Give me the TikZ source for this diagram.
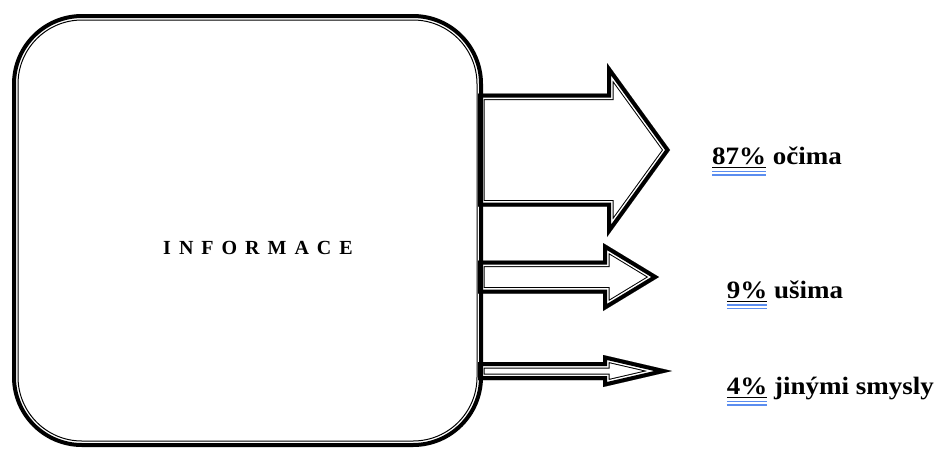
\documentclass[tikz,border=0pt]{standalone}
\usepackage{fontspec}
\setmainfont{Liberation Serif}
\newfontfamily\spacedfont[LetterSpace=40]{Liberation Serif}
\usepackage{xcolor}
\usepackage{graphicx}
\definecolor{markblue}{HTML}{5B8DEF}
% number with black underline and blue double mark below it
\newcommand\pctmark[1]{\setbox0\hbox{#1}%
  \rlap{\rule[-4pt]{\wd0}{1.4pt}}%
  \rlap{\color{markblue}\rule[-7.5pt]{\wd0}{1.2pt}}%
  \rlap{\color{markblue}\rule[-11.3pt]{\wd0}{1.2pt}}\box0\relax}

\begin{document}
\begin{tikzpicture}[x=1pt,y=-1pt,
  thickthin/.style={line join=miter,draw=white,line width=11,
    preaction={draw=black,line width=13},
    postaction={draw=black,line width=8}},
  infobox/.style={draw,line width=4,rounded corners=68pt,
    minimum width=467pt,minimum height=429pt,inner sep=0pt},
  sense/.style={anchor=base west,inner sep=0pt,font=\bfseries\fontsize{25}{29}\selectfont}]
\useasboundingbox (0,0) rectangle (939,448);
% arrows
\begin{scope}
\clip (478,93.5) -- (607,93.5) -- (607,63) -- (670,150) -- (607,237) -- (607,206.5) -- (478,206.5) -- cycle;
\draw[thickthin] (478,93.5) -- (607,93.5) -- (607,63) -- (670,150) -- (607,237) -- (607,206.5) -- (478,206.5) -- cycle;
\end{scope}
\begin{scope}
\clip (478,260.5) -- (603,260.5) -- (603,243) -- (659,277) -- (603,311) -- (603,293.5) -- (478,293.5) -- cycle;
\draw[thickthin] (478,260.5) -- (603,260.5) -- (603,243) -- (659,277) -- (603,311) -- (603,293.5) -- (478,293.5) -- cycle;
\end{scope}
\begin{scope}
\clip (478,362) -- (603,362) -- (603,355) -- (672,371) -- (603,387) -- (603,380) -- (478,380) -- cycle;
\draw[thickthin] (478,362) -- (603,362) -- (603,355) -- (672,371) -- (603,387) -- (603,380) -- (478,380) -- cycle;
\end{scope}
% box
\node[infobox] (info) at (247.5,230.5) {};
\draw[line width=1,rounded corners=64pt] ([shift={(6,6)}]info.north west) rectangle ([shift={(-6,-6)}]info.south east);
\node[inner sep=0pt,anchor=base,font=\spacedfont\bfseries\fontsize{20}{24}\selectfont] (infotext) at (258,254) {INFORMACE};
% labels
\node[sense] (eyes) at (712,164.3) {\scalebox{1.08}[1]{\pctmark{87\%} očima}};
\node[sense] (ears) at (726.7,298) {\scalebox{1.08}[1]{\pctmark{9\%} ušima}};
\node[sense] (other) at (726.7,394.3) {\scalebox{1.08}[1]{\pctmark{4\%} jinými smysly}};
\end{tikzpicture}
\end{document}
